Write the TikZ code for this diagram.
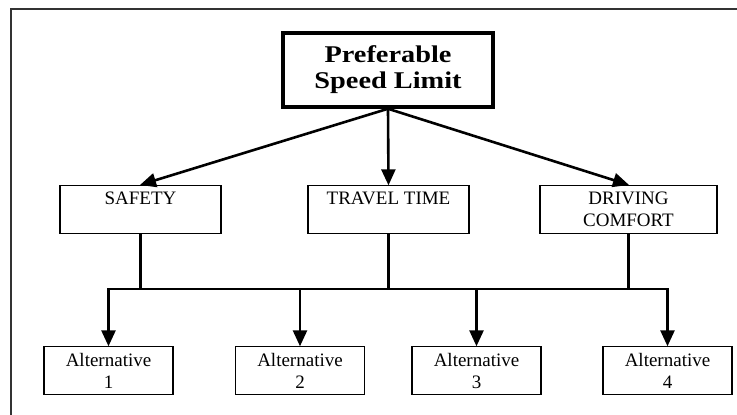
\documentclass[tikz,border=0pt]{standalone}
\usepackage{fontspec}
\setmainfont{Liberation Serif}
\newfontfamily\titlefont[FakeStretch=1.18]{Liberation Serif}
\usetikzlibrary{arrows.meta}
\begin{document}
\begin{tikzpicture}[x=1pt,y=-1pt,
  box/.style={draw=black, line width=1.4pt, align=center, inner sep=0pt,
    minimum height=48pt, font=\fontsize{19}{22}\selectfont},
  titlebox/.style={draw=black, line width=3.5pt, align=center, inner sep=0pt,
    minimum width=210pt, minimum height=74pt, font=\titlefont\fontsize{24}{26}\selectfont\bfseries},
  conn/.style={line width=2.6pt, draw=black},
  arr/.style={conn, -{Triangle[length=16pt,width=14pt]}, shorten >=-0.5pt},
  frame/.style={draw=black!80, line width=2.6pt}]
\useasboundingbox (0,0) rectangle (737,415);
\begin{scope}
\clip (0,0) rectangle (737,415);
\draw[frame] (11,9) rectangle (760,440);
\end{scope}
\node[titlebox] (top) at (388,70) {Preferable\\Speed Limit};
\node[box, minimum width=161pt] (safety) at (140.5,209.5) {SAFETY\\\mbox{}};
\node[box, minimum width=161pt] (travel) at (388.5,209.5) {TRAVEL TIME\\\mbox{}};
\node[box, minimum width=177pt] (comfort) at (628.5,209.5) {DRIVING\\COMFORT};
\node[box, minimum width=129pt] (alt1) at (108.5,370.5) {Alternative\\1};
\node[box, minimum width=129pt] (alt2) at (300,370.5) {Alternative\\2};
\node[box, minimum width=129pt] (alt3) at (476.5,370.5) {Alternative\\3};
\node[box, minimum width=129pt] (alt4) at (667.5,370.5) {Alternative\\4};
\coordinate (busL) at (108.5,289);
\coordinate (busR) at (667.5,289);
\draw[arr] (top.south) -- (safety.north);
\draw[arr] (top.south) -- (travel.north);
\draw[arr] (top.south) -- (comfort.north);
\draw[conn] (safety.south) -- (safety.south |- busL);
\draw[conn] (travel.south) -- (travel.south |- busL);
\draw[conn] (comfort.south) -- (comfort.south |- busL);
\draw[conn, line cap=rect] (busL) -- (busR);
\draw[arr] (busL) -- (alt1.north);
\draw[arr] (alt2.north |- busL) -- (alt2.north);
\draw[arr] (alt3.north |- busL) -- (alt3.north);
\draw[arr] (busR) -- (alt4.north);
\end{tikzpicture}
\end{document}
